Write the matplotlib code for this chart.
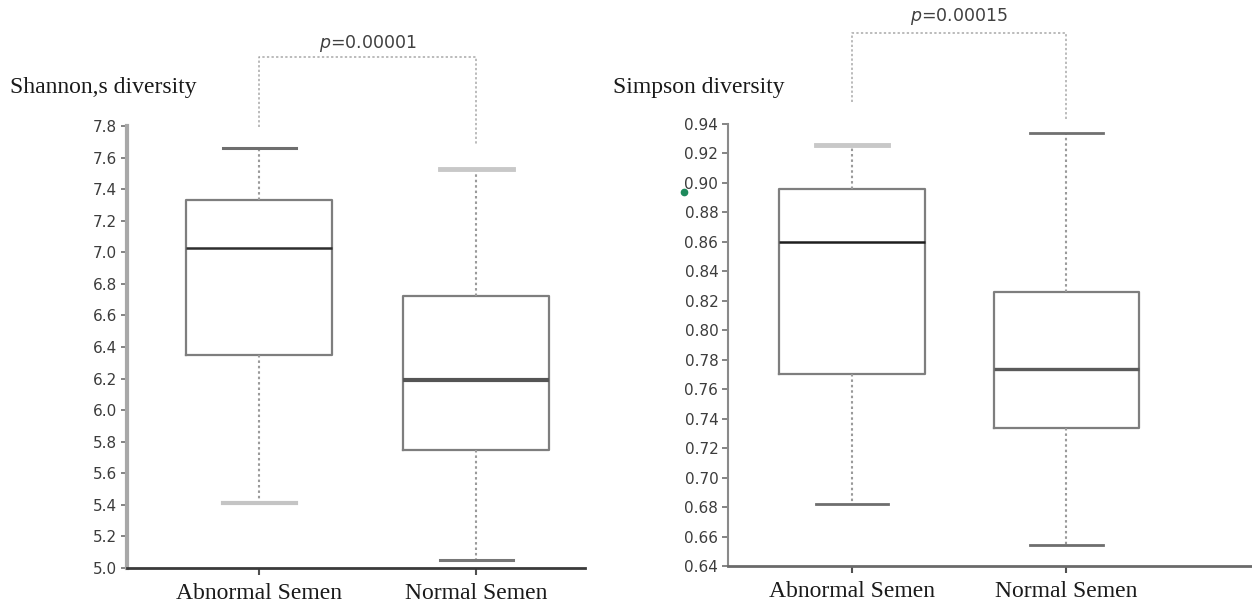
import matplotlib
matplotlib.use("Agg")
import matplotlib.pyplot as plt

# ---- data -------------------------------------------------------------
groups = ["Abnormal Semen", "Normal Semen"]

shannon_low = [5.41, 5.05]
shannon_q1 = [6.35, 5.75]
shannon_med = [7.03, 6.19]
shannon_q3 = [7.33, 6.72]
shannon_high = [7.66, 7.53]
shannon_p = "0.00001"
shannon_ticks = [5.0, 5.2, 5.4, 5.6, 5.8, 6.0, 6.2, 6.4, 6.6, 6.8, 7.0, 7.2, 7.4, 7.6, 7.8]

simpson_low = [0.682, 0.654]
simpson_q1 = [0.770, 0.734]
simpson_med = [0.860, 0.774]
simpson_q3 = [0.896, 0.826]
simpson_high = [0.926, 0.934]
simpson_p = "0.00015"
simpson_ticks = [0.64, 0.66, 0.68, 0.70, 0.72, 0.74, 0.76, 0.78, 0.80,
                 0.82, 0.84, 0.86, 0.88, 0.90, 0.92, 0.94]

W, H = 1252, 604
fig = plt.figure(figsize=(W / 100, H / 100), dpi=100)
fig.patch.set_facecolor("white")

SERIF = "Liberation Serif"
SANS = "DejaVu Sans"


def px_axes(x0, y0, x1, y1):
    """Axes from pixel box (left, top, right, bottom) measured from top-left."""
    return fig.add_axes([x0 / W, 1 - y1 / H, (x1 - x0) / W, (y1 - y0) / H])


def draw_panel(ax, low, q1, med, q3, high, ticks, fmt, xlim, box_w,
               median_style, cap_colors, cap_widths, spine_y, spine_x):
    stats = [dict(whislo=lo, q1=a, med=m, q3=b, whishi=hi, label=g)
             for lo, a, m, b, hi, g in zip(low, q1, med, q3, high, groups)]
    art = ax.bxp(stats, positions=[0, 1], widths=box_w, showfliers=False,
                 patch_artist=False, capwidths=box_w / 2,
                 boxprops=dict(color="#7e7e7e", linewidth=1.6),
                 whiskerprops=dict(color="#9a9a9a", linewidth=1.5, linestyle=(0, (1.2, 1.4))),
                 medianprops=dict(color="#333333", linewidth=1.8))
    for line, (c, lw) in zip(art["medians"], median_style):
        line.set_color(c)
        line.set_linewidth(lw)
    for cap, c, lw in zip(art["caps"], cap_colors, cap_widths):
        cap.set_color(c)
        cap.set_linewidth(lw)

    ax.set_xlim(*xlim)
    ax.set_ylim(ticks[0], ticks[-1])
    ax.set_yticks(ticks)
    ax.set_yticklabels([fmt.format(t) for t in ticks], fontfamily=SANS,
                       fontsize=11, color="#3c3c3c")
    ax.set_xticks([0, 1])
    ax.set_xticklabels(groups, fontfamily=SERIF, fontsize=17, color="#1a1a1a")
    ax.tick_params(axis="y", length=4, width=1.2, color="#707070", pad=3)
    ax.tick_params(axis="x", length=5, width=1.5, color="#505050", pad=6)
    for s in ("top", "right"):
        ax.spines[s].set_visible(False)
    ax.spines["left"].set_color(spine_y[0])
    ax.spines["left"].set_linewidth(spine_y[1])
    ax.spines["bottom"].set_color(spine_x[0])
    ax.spines["bottom"].set_linewidth(spine_x[1])
    ax.patch.set_alpha(0)


def bracket(ax, leg_ends, top, text_y, p):
    ax.plot([0, 0, 1, 1], [leg_ends[0], top, top, leg_ends[1]],
            color="#a8a8a8", linewidth=1.1, linestyle=(0, (1.5, 1.5)),
            clip_on=False)
    ax.text(0.5, text_y, "$p$=" + p, ha="center", va="center",
            fontfamily=SANS, fontsize=12.5, color="#404040", clip_on=False)


# ---- left panel: Shannon ---------------------------------------------
ax1 = px_axes(127, 126, 585, 568)
draw_panel(ax1, shannon_low, shannon_q1, shannon_med, shannon_q3, shannon_high,
           shannon_ticks, "{:.1f}", (-0.611, 1.502), 0.673,
           median_style=[("#2e2e2e", 1.8), ("#555555", 3.0)],
           cap_colors=["#c4c4c4", "#6e6e6e", "#777777", "#c8c8c8"],
           cap_widths=[3.0, 2.2, 2.2, 3.5],
           spine_y=("#a8a8a8", 3.0), spine_x=("#3a3a3a", 2.0))
bracket(ax1, (7.795, 7.68), 8.238, 8.32, shannon_p)
fig.text(10 / W, 1 - 88 / H, "Shannon,s diversity", fontfamily=SERIF,
         fontsize=17, color="#1a1a1a", ha="left", va="center")

# ---- right panel: Simpson --------------------------------------------
ax2 = px_axes(728, 124, 1252, 566)
draw_panel(ax2, simpson_low, simpson_q1, simpson_med, simpson_q3, simpson_high,
           simpson_ticks, "{:.2f}", (-0.578, 1.865), 0.68,
           median_style=[("#1e1e1e", 1.8), ("#5a5a5a", 2.4)],
           cap_colors=["#6e6e6e", "#c8c8c8", "#6e6e6e", "#707070"],
           cap_widths=[2.0, 3.5, 2.0, 2.0],
           spine_y=("#8a8a8a", 1.5), spine_x=("#6a6a6a", 2.0))
bracket(ax2, (0.955, 0.9425), 1.002, 1.0133, simpson_p)
ax2.plot([-0.783], [0.894], marker="o", markersize=4.5, color="#1e8a5c",
         clip_on=False)
fig.text(613 / W, 1 - 88 / H, "Simpson diversity", fontfamily=SERIF,
         fontsize=17, color="#1a1a1a", ha="left", va="center")

fig.savefig("out.png", dpi=100, facecolor="white")
